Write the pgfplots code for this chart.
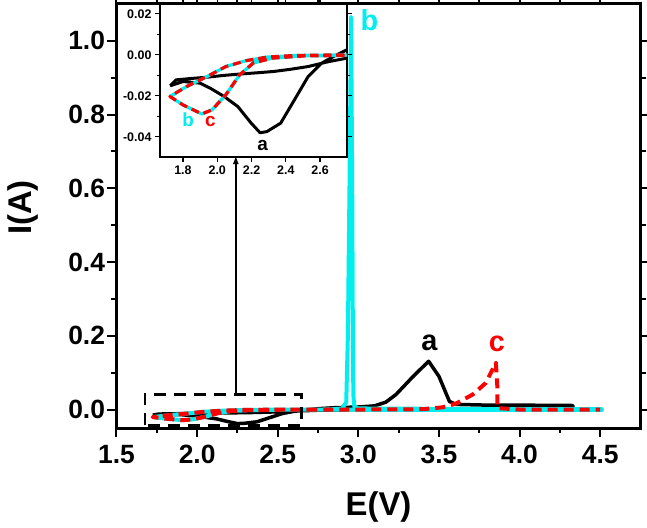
\documentclass[border=0pt]{standalone}
\usepackage{fontspec}
\setmainfont{Liberation Sans}
\usepackage{pgfplots}
\usepackage{pgfplotstable}
\pgfplotsset{compat=1.18}
\usetikzlibrary{calc,arrows.meta}

\definecolor{cvcyan}{RGB}{0,238,238}

% Cyclic voltammograms: E (V), I (A)
\pgfplotstableread{
E I
1.725 -0.0151
1.80 -0.0130
1.90 -0.0138
1.96 -0.0163
2.04 -0.0203
2.12 -0.0252
2.195 -0.0330
2.25 -0.0380
2.29 -0.0374
2.37 -0.0333
2.45 -0.0220
2.53 -0.0106
2.61 -0.0040
2.685 -0.0005
2.757 0.0025
2.85 0.0050
3.00 0.0070
3.10 0.0100
3.17 0.0200
3.234 0.0410
3.34 0.0900
3.436 0.1310
3.50 0.0900
3.565 0.0220
3.605 0.0140
3.80 0.0120
4.00 0.0120
4.33 0.0110
4.33 0.0040
4.00 0.0020
3.50 0.0010
3.00 0.0000
2.757 -0.0016
2.65 -0.0033
2.53 -0.0057
2.43 -0.0070
2.33 -0.0081
2.24 -0.0087
2.14 -0.0093
2.04 -0.0100
1.94 -0.0109
1.85 -0.0115
1.76 -0.0122
1.725 -0.0151
}\curveA

\pgfplotstableread{
E I
1.724 -0.0203
1.80 -0.0244
1.91 -0.0288
1.97 -0.0268
2.05 -0.0195
2.13 -0.0098
2.21 -0.0040
2.32 -0.0016
2.51 -0.0005
2.74 -0.0003
2.85 0.0010
2.90 0.0030
2.925 0.0200
2.935 0.2000
2.945 0.6000
2.955 1.0650
2.962 0.6000
2.966 0.2000
2.969 0.0400
2.975 0.0080
3.00 0.0030
3.50 0.0020
4.00 0.0010
4.51 0.0010
4.51 -0.0010
4.00 -0.0010
3.50 -0.0010
3.00 -0.0005
2.74 0.0000
2.45 -0.0003
2.29 -0.0011
2.17 -0.0028
2.05 -0.0057
1.94 -0.0106
1.82 -0.0155
1.724 -0.0203
}\curveB

\pgfplotstableread{
E I
2.74 0.0000
2.45 -0.0003
2.29 -0.0011
2.17 -0.0028
2.05 -0.0057
1.94 -0.0106
1.82 -0.0155
1.724 -0.0203
1.80 -0.0244
1.91 -0.0288
1.97 -0.0268
2.05 -0.0195
2.13 -0.0098
2.21 -0.0040
2.32 -0.0016
2.51 -0.0005
2.74 -0.0003
3.00 0.0000
3.40 0.0010
3.52 0.0060
3.605 0.0160
3.71 0.0410
3.79 0.0720
3.853 0.1270
3.862 0.0630
3.862 0.0040
4.00 0.0000
4.50 0.0000
}\curveC

\begin{document}
\begin{tikzpicture}
\begin{axis}[
  name=main,
  scale only axis,
  width=524bp, height=424bp,
  xmin=1.5, xmax=4.75,
  ymin=-0.05, ymax=1.10,
  xtick={1.5,2.0,2.5,3.0,3.5,4.0,4.5},
  ytick={0,0.2,0.4,0.6,0.8,1.0},
  minor x tick num=1,
  minor y tick num=1,
  tick align=outside,
  major tick length=9bp,
  minor tick length=5bp,
  every tick/.style={black, line width=2bp},
  axis line style={line width=3bp},
  /pgf/number format/assume math mode=true,
  ticklabel style={font=\fontsize{26.5}{30}\selectfont\bfseries,
    /pgf/number format/fixed, /pgf/number format/fixed zerofill,
    /pgf/number format/precision=1},
  yticklabel style={xshift=1bp},
  xticklabel style={yshift=-5bp},
  xlabel={E(V)}, ylabel={I(A)},
  label style={font=\fontsize{33}{38}\selectfont\bfseries},
  xlabel style={at={(axis description cs:0.5,-0.187)}, anchor=center},
  ylabel style={at={(axis description cs:-0.178,0.52)}, anchor=center},
]
\addplot[black, line width=3.5bp, line join=round] table {\curveA};
\addplot[cvcyan, line width=4bp, line join=round] table {\curveB};
\addplot[red, line width=4bp, line join=round, dash pattern=on 10bp off 6bp] table {\curveC};

% zoomed region and pointer to the inset
\draw[black, line width=2.5bp, dash pattern=on 12bp off 8bp]
  (axis cs:1.676,-0.043) rectangle (axis cs:2.647,0.041);
\draw[black, line width=1.5bp, -{Latex[length=9bp,width=6bp]}]
  (axis cs:2.24,0.041) -- (axis cs:2.24,0.69);

\node[cvcyan, font=\fontsize{29}{32}\selectfont\bfseries] at (axis cs:3.069,1.057) {b};
\node[black, font=\fontsize{29}{32}\selectfont\bfseries] at (axis cs:3.44,0.181) {a};
\node[red, font=\fontsize{29}{32}\selectfont\bfseries] at (axis cs:3.86,0.178) {c};
\end{axis}

\begin{axis}[
  at={($(main.north west)+(43.5bp,0)$)}, anchor=north west,
  scale only axis,
  width=187bp, height=153bp,
  xmin=1.666, xmax=2.757,
  ymin=-0.0498, ymax=0.0248,
  axis background/.style={fill=white},
  xtick={1.8,2.0,2.2,2.4,2.6},
  ytick={-0.04,-0.02,0,0.02},
  scaled y ticks=false,
  minor y tick num=1,
  tick align=outside,
  major tick length=5bp,
  minor tick length=3bp,
  every tick/.style={black, line width=1.2bp},
  axis line style={line width=2bp},
  /pgf/number format/assume math mode=true,
  ticklabel style={font=\fontsize{12.5}{14}\selectfont\bfseries},
  xticklabel style={/pgf/number format/fixed, /pgf/number format/fixed zerofill,
    /pgf/number format/precision=1},
  yticklabel style={/pgf/number format/fixed, /pgf/number format/fixed zerofill,
    /pgf/number format/precision=2},
]
\addplot[black, line width=3bp, line join=round] table {\curveA};
\addplot[cvcyan, line width=3.2bp, line join=round] table {\curveB};
\addplot[red, line width=3.2bp, line join=round, dash pattern=on 8bp off 5bp] table {\curveC};
\node[cvcyan, font=\fontsize{19}{22}\selectfont\bfseries] at (axis cs:1.83,-0.0318) {b};
\node[red, font=\fontsize{19}{22}\selectfont\bfseries] at (axis cs:1.96,-0.0325) {c};
\node[black, font=\fontsize{19}{22}\selectfont\bfseries] at (axis cs:2.265,-0.0440) {a};
\end{axis}

\pgfresetboundingbox
\path ($(main.south west)+(-116.5bp,-100bp)$) rectangle ++(647bp,528bp);
\end{tikzpicture}
\end{document}
